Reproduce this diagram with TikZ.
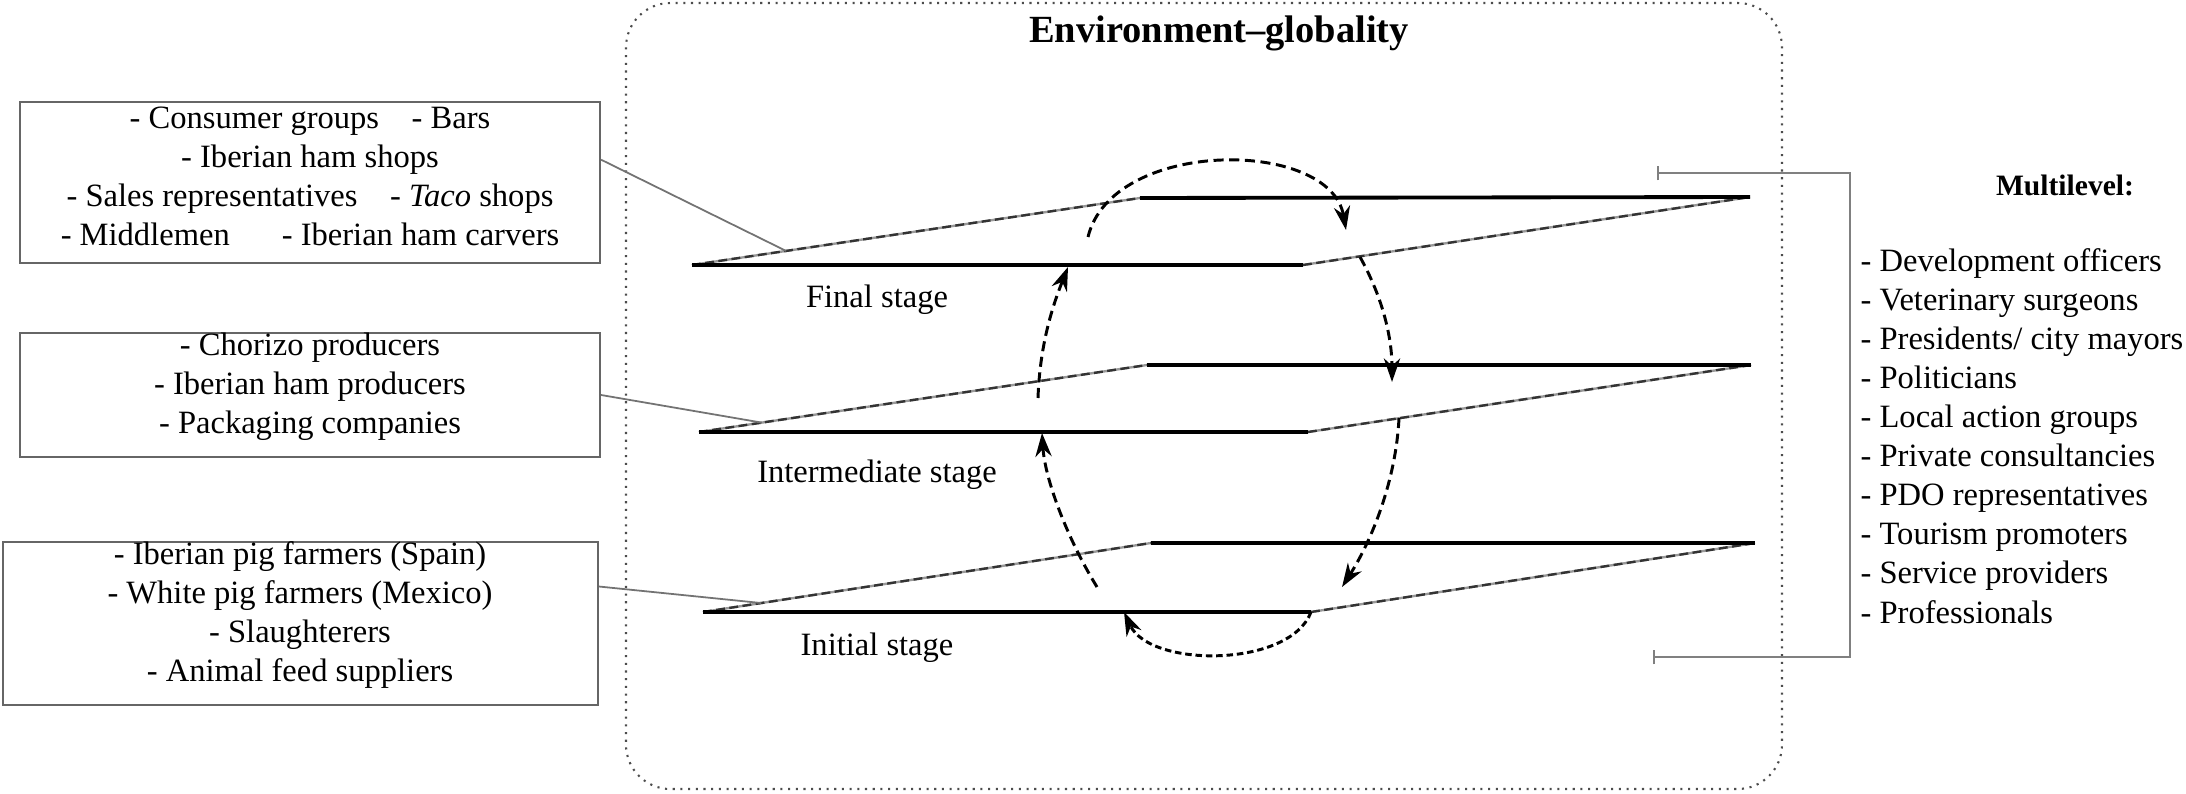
\documentclass[tikz,border=0pt]{standalone}
\usepackage{fontspec}
\setmainfont{Liberation Serif}
\usetikzlibrary{arrows.meta,calc,fit}
\begin{document}
\begin{tikzpicture}[x=0.338pt,y=-0.338pt,
  boxline/.style={draw=black!60, line width=0.7pt, inner sep=0pt},
  boxtext/.style={align=center, font=\fontsize{11}{13.2}\selectfont, inner sep=0pt},
  link/.style={draw=black!55, line width=0.6pt},
  edgeline/.style={draw=black, line width=1.3pt},
  sidebase/.style={draw=black!40, line width=0.8pt},
  sidedash/.style={draw=black!80, line width=0.8pt, dash pattern=on 3pt off 1.5pt},
  flow/.style={draw=black, line width=1pt, dash pattern=on 3.4pt off 1.9pt, -{Stealth[length=8pt,width=5.5pt]}},
  flowdense/.style={flow, dash pattern=on 2.2pt off 1.3pt},
  stagelabel/.style={font=\fontsize{11}{13.2}\selectfont, inner sep=0pt},
  bracketline/.style={draw=black!50, line width=0.8pt},
]
\useasboundingbox (0,0) rectangle (2186,793);

% environment frame
\coordinate (envnw) at (626,3);
\coordinate (envse) at (1782,789);
\draw[black!70, line width=0.7pt, dash pattern=on 0.7pt off 1.9pt, rounded corners=15pt] (envnw) rectangle (envse);
\node[font=\fontsize{13}{15}\selectfont\bfseries] (title) at (1219,33) {Environment--globality};

% planes: F = final, I = intermediate, N = initial
\coordinate (FFL) at (692,265); \coordinate (FFR) at (1303,265);
\coordinate (FBL) at (1140,198); \coordinate (FBR) at (1750,197);
\coordinate (IFL) at (699,432); \coordinate (IFR) at (1308,432);
\coordinate (IBL) at (1147,365); \coordinate (IBR) at (1751,365);
\coordinate (NFL) at (703,612); \coordinate (NFR) at (1311,612);
\coordinate (NBL) at (1151,543); \coordinate (NBR) at (1755,543);

\foreach \p in {F,I,N}{
  \draw[sidebase] (\p FL) -- (\p BL);
  \draw[sidedash] (\p FL) -- (\p BL);
  \draw[sidebase] (\p FR) -- (\p BR);
  \draw[sidedash] (\p FR) -- (\p BR);
  \draw[edgeline] (\p FL) -- (\p FR);
  \draw[edgeline] (\p BL) -- (\p BR);
}

\node[stagelabel] (lfinal) at (877,300) {Final stage};
\node[stagelabel] (linter) at (877,475) {Intermediate stage};
\node[stagelabel] (linit) at (877,648) {Initial stage};

% cycle arrows
\coordinate (a1s) at (1088,237); \coordinate (a1e) at (1346,230);
\draw[flow] (a1s) .. controls (1112,138) and (1330,138) .. (a1e);
\coordinate (a2s) at (1360,257); \coordinate (a2e) at (1392,382);
\draw[flow] (a2s) .. controls (1384,300) and (1392,340) .. (a2e);
\coordinate (a3s) at (1399,418); \coordinate (a3e) at (1342,587);
\draw[flow] (a3s) .. controls (1396,480) and (1372,540) .. (a3e);
\coordinate (a4s) at (1311,612); \coordinate (a4e) at (1124,612);
\draw[flowdense] (a4s) .. controls (1290,668) and (1150,668) .. (a4e);
\coordinate (a5s) at (1097,587); \coordinate (a5e) at (1042,433);
\draw[flow] (a5s) .. controls (1068,540) and (1045,480) .. (a5e);
\coordinate (a6s) at (1038,398); \coordinate (a6e) at (1068,267);
\draw[flow] (a6s) .. controls (1040,340) and (1055,300) .. (a6e);

% left boxes
\coordinate (b1nw) at (20,102); \coordinate (b1se) at (600,263);
\node[boxline, fit=(b1nw)(b1se)] (b1) {};
\node[boxtext] (b1t) at (310,176) {- Consumer groups\hspace{1em}- Bars\\
- Iberian ham shops\\
- Sales representatives\hspace{1em}- \textit{Taco} shops\\
- Middlemen\hspace{1.6em}- Iberian ham carvers};

\coordinate (b2nw) at (20,333); \coordinate (b2se) at (600,457);
\node[boxline, fit=(b2nw)(b2se)] (b2) {};
\node[boxtext] (b2t) at (310,387) {- Chorizo producers\\
- Iberian ham producers\\
- Packaging companies};

\coordinate (b3nw) at (3,542); \coordinate (b3se) at (598,705);
\node[boxline, fit=(b3nw)(b3se)] (b3) {};
\node[boxtext] (b3t) at (300,615) {- Iberian pig farmers (Spain)\\
- White pig farmers (Mexico)\\
- Slaughterers\\
- Animal feed suppliers};

% connectors from boxes to planes
\coordinate (f1) at ($(FFL)!0.21!(FBL)$);
\coordinate (i1) at ($(IFL)!0.14!(IBL)$);
\coordinate (n1) at ($(NFL)!0.13!(NBL)$);
\draw[link] ($(b1.north east)!0.36!(b1.south east)$) -- (f1);
\draw[link] (b2.east) -- (i1);
\draw[link] ($(b3.north east)!0.276!(b3.south east)$) -- (n1);

% multilevel bracket
\coordinate (bt) at (1657,173);
\coordinate (bb) at (1653,657);
\coordinate (bx) at (1850,400);
\draw[bracketline, {Bar[width=5pt]}-{Bar[width=5pt]}] (bt) -- (bt -| bx) -- (bb -| bx) -- (bb);

\node[font=\fontsize{10}{12}\selectfont\bfseries] (mtitle) at (2065,185) {Multilevel:};
\node[anchor=west, align=left, font=\fontsize{11}{13.2}\selectfont, inner sep=0pt] (mlist) at (1860,436) {- Development officers\\
- Veterinary surgeons\\
- Presidents/ city mayors\\
- Politicians\\
- Local action groups\\
- Private consultancies\\
- PDO representatives\\
- Tourism promoters\\
- Service providers\\
- Professionals};
\end{tikzpicture}
\end{document}
